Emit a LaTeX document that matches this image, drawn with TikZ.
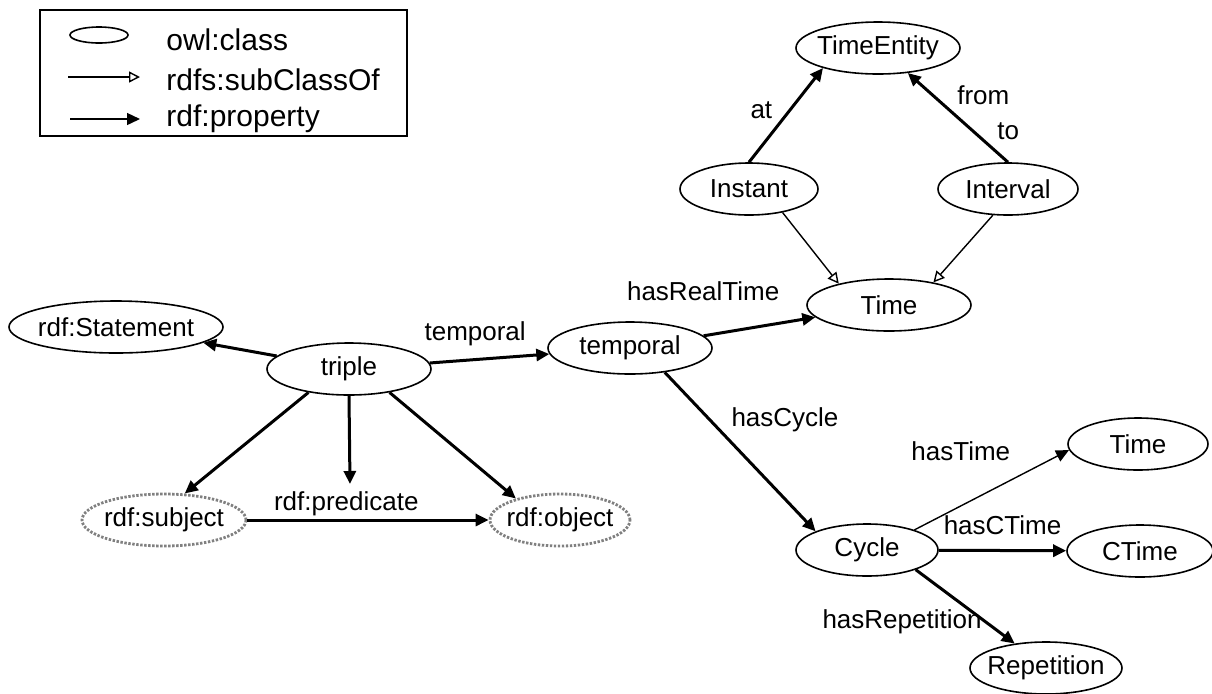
\documentclass[tikz,border=0pt]{standalone}
\usepackage{fontspec}
\setmainfont{Liberation Sans}
\usetikzlibrary{arrows.meta, positioning, shapes.geometric}

\begin{document}
\begin{tikzpicture}[
    x=0.5pt, y=-0.5pt,
    owlclass/.style={ellipse, draw, line width=0.8pt, fill=white, inner xsep=-3pt, inner ysep=0pt,
                 minimum height=26pt, font=\fontsize{13}{15}\selectfont},
    rdfres/.style={owlclass, draw=gray, line width=1.4pt, dash pattern=on 1.2pt off 0.8pt},
    prop/.style={-{Triangle[length=6.5pt, width=6pt]}, line width=1.5pt},
    thinprop/.style={-{Triangle[length=6.5pt, width=6pt]}, line width=0.7pt},
    subcls/.style={-{Triangle[open, length=5.5pt, width=5.5pt]}, line width=0.7pt},
    lbl/.style={font=\fontsize{13}{15}\selectfont, inner sep=1pt},
    legtext/.style={font=\fontsize{15}{17}\selectfont, anchor=west, inner sep=0pt},
  ]
    \fill[white] (0,0) rectangle (1212,693);
    \useasboundingbox (0,0) rectangle (1212,693);

    % legend
    \draw[line width=0.8pt] (40,10) rectangle (407,136);
    \node[ellipse, draw, line width=0.8pt, minimum width=29pt, minimum height=8pt, inner sep=0pt] (legcls) at (99,35) {};
    \node[legtext] (legclstxt) at (166,40) {owl:class};
    \coordinate (legsubA) at (68,77);
    \coordinate (legsubB) at (140,77);
    \draw[subcls] (legsubA) -- (legsubB);
    \node[legtext] (legsubtxt) at (166,80) {rdfs:subClassOf};
    \coordinate (legpropA) at (70,119);
    \coordinate (legpropB) at (140,119);
    \draw[thinprop] (legpropA) -- (legpropB);
    \node[legtext] (legproptxt) at (166,119) {rdf:property};

    % classes
    \node[owlclass, minimum width=107pt] (stmt) at (116,327) {rdf:Statement};
    \node[owlclass, minimum width=82pt] (triple) at (349,369) {triple};
    \node[owlclass, minimum width=82pt] (temporal) at (630,348) {temporal};
    \node[owlclass, minimum width=82pt] (tentity) at (878,48) {TimeEntity};
    \node[owlclass, minimum width=69pt] (instant) at (749,189) {Instant};
    \node[owlclass, minimum width=70pt] (interval) at (1008,189) {Interval};
    \node[owlclass, minimum width=82pt] (realtime) at (889,305) {Time};
    \node[owlclass, minimum width=71pt] (cycle) at (867,550) {Cycle};
    \node[owlclass, minimum width=70pt] (cyctime) at (1138,444) {Time};
    \node[owlclass, minimum width=73pt] (ctime) at (1140,551) {CTime};
    \node[owlclass, minimum width=76pt] (repet) at (1046,668) {Repetition};
    \node[rdfres, minimum width=82pt] (subj) at (164,520) {rdf:subject};
    \node[rdfres, minimum width=70pt] (obj) at (560,520) {rdf:object};
    \coordinate (pred) at (350,484);

    % properties
    \draw[prop] (triple) -- (stmt);
    \draw[prop] (triple) -- node[lbl, pos=0.38, above=5pt] {temporal} (temporal);
    \draw[prop] (triple.-150) -- (subj.52);
    \draw[prop] (triple.south) -- (pred);
    \draw[prop] (triple.-30) -- (obj.154);
    \draw[prop] (subj) -- node[lbl, pos=0.41, above=0.5pt] {rdf:predicate} (obj);
    \draw[prop] (temporal) -- node[lbl, pos=0.3, above=13pt, xshift=-17pt] {hasRealTime} (realtime);
    \draw[prop] (temporal.-35) -- node[lbl, pos=0.3, right=9pt] {hasCycle} (cycle.160);
    \draw[prop] (instant.north) -- node[lbl, pos=0.55, left=7pt] {at} (tentity.200);
    \draw[prop] (interval.north) -- node[lbl, pos=0.75, right=10.5pt] {from}
                                    node[lbl, pos=0.35, right=10.5pt] {to} (tentity.320);
    \draw[thinprop] (cycle.23) -- node[lbl, pos=0.3, above=21pt] {hasTime} (cyctime.185);
    \draw[prop] (cycle) -- node[lbl, pos=0.5, above=6pt] {hasCTime} (ctime);
    \draw[prop] (cycle.-22) -- node[lbl, pos=0.7, left=0pt] {hasRepetition} (repet.142);

    % subclasses
    \draw[subcls] (instant.-35) -- (realtime.157);
    \draw[subcls] (interval.-120) -- (realtime.27);
  \end{tikzpicture}
\end{document}
